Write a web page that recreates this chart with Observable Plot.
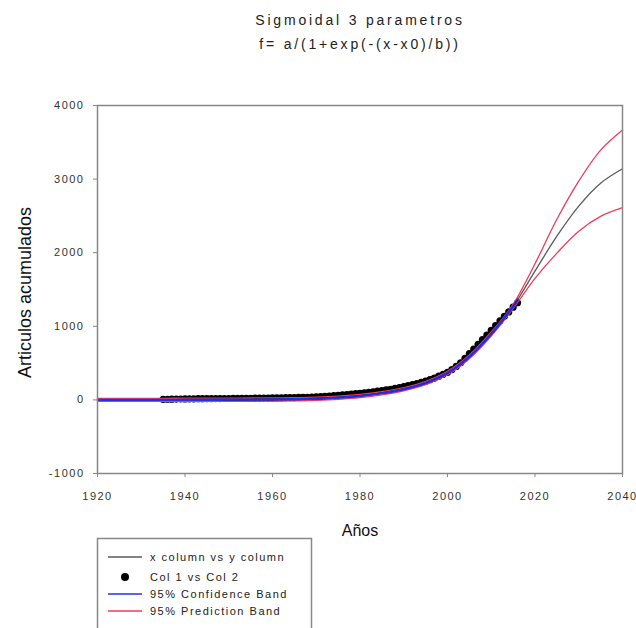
<!DOCTYPE html>
<html><head><meta charset="utf-8">
<script src="https://cdn.jsdelivr.net/npm/d3@7"></script>
<script src="https://cdn.jsdelivr.net/npm/@observablehq/plot@0.6"></script>
<style>
html,body{margin:0;padding:0;background:#fff;}
svg text{letter-spacing:1.5px;}
</style></head><body><div id="chart"></div>
<script>
const titleLines = ["Sigmoidal 3 parametros", "f= a/(1+exp(-(x-x0)/b))"];
const xLabel = "Años";
const yLabel = "Articulos acumulados";
const xTicks = [1920, 1940, 1960, 1980, 2000, 2020, 2040];
const yTicks = [-1000, 0, 1000, 2000, 3000, 4000];

// observed points (Col 1 vs Col 2), one per year 1935..2016
const dataYears = d3.range(1935, 2017);
const dataValues = [
  8, 9, 10, 11, 12, 13, 14, 15, 16, 16,
  17, 17, 18, 18, 19, 19, 20, 20, 21, 21,
  22, 23, 24, 25, 26, 27, 28, 29, 30, 31,
  32, 33, 34, 36, 38, 40, 44, 48, 53, 58,
  63, 68, 72, 78, 84, 90, 97, 104, 111, 118,
  126, 135, 145, 156, 168, 180, 193, 207, 222, 238,
  255, 275, 297, 322, 348, 375, 412, 455, 505, 565,
  630, 690, 755, 820, 880, 945, 1010, 1075, 1135, 1195,
  1260, 1320
];

// fitted curve (x column vs y column), read every 5 years
const fitYears = [1920,1925,1930,1935,1940,1945,1950,1955,1960,1965,1970,1975,1980,1985,1990,1995,2000,2005,2010,2015,2020,2025,2030,2035,2040];
const fitValues = [0, 0, 0, 0.5, 1, 1.5, 2.5, 4, 6, 10, 17, 30, 52, 90, 145, 230, 365, 585, 895, 1270, 1750, 2224, 2633, 2944, 3140];

// 95% prediction band
const predUpper = [20, 20, 21, 22, 23, 24, 25, 26, 28, 32, 39, 52, 74, 112, 167, 253, 389, 610, 922, 1300, 1850, 2454, 2973, 3394, 3668];
const predLower = [-20, -20, -21, -21, -21, -21, -20, -18, -16, -12, -5, 8, 30, 68, 123, 207, 341, 560, 868, 1240, 1650, 1994, 2293, 2494, 2612];

// 95% confidence band (drawn over the observed range)
const confYears = [1920,1925,1930,1935,1940,1945,1950,1955,1960,1965,1970,1975,1980,1985,1990,1995,2000,2005,2010,2015,2016];
const confUpper = [6, 6, 6, 7, 7, 8, 9, 10, 12, 16, 23, 36, 58, 96, 152, 238, 374, 595, 907, 1285, 1372];
const confLower = [-6, -6, -6, -6, -6, -5, -4, -2, 0, 4, 11, 24, 46, 84, 138, 222, 356, 575, 883, 1255, 1340];

const legendLabels = ["x column vs y column", "Col 1 vs Col 2", "95% Confidence Band", "95% Prediction Band"];

const colFit = "#5a5a5a", colConf = "#2030ee", colPred = "#ef3a5c";

const pts = dataYears.map((x, i) => ({x, y: dataValues[i]}));
const toRows = (xs, ys) => xs.map((x, i) => ({x, y: ys[i]}));
const fit = toRows(fitYears, fitValues);
const pU = toRows(fitYears, predUpper), pL = toRows(fitYears, predLower);
const cU = toRows(confYears, confUpper), cL = toRows(confYears, confLower);

const chart = Plot.plot({
  width: 636, height: 628,
  marginLeft: 97, marginRight: 14, marginTop: 105, marginBottom: 155,
  style: {fontFamily: "'Liberation Sans', Arial, sans-serif", fontSize: "11px", background: "#fff", color: "#222", overflow: "visible"},
  x: {domain: [1920, 2040]},
  y: {domain: [-1000, 4000]},
  marks: [
    Plot.line(fit, {x: "x", y: "y", stroke: colFit, strokeWidth: 1.3, curve: "catmull-rom"}),
    Plot.dot(pts, {x: "x", y: "y", r: 3.6, fill: "#000", stroke: "none"}),
    Plot.line(pU, {x: "x", y: "y", stroke: colPred, strokeWidth: 1.3, curve: "catmull-rom"}),
    Plot.line(pL, {x: "x", y: "y", stroke: colPred, strokeWidth: 1.3, curve: "catmull-rom"}),
    Plot.line(cU, {x: "x", y: "y", stroke: colConf, strokeWidth: 1.3, curve: "catmull-rom"}),
    Plot.line(cL, {x: "x", y: "y", stroke: colConf, strokeWidth: 1.3, curve: "catmull-rom"}),
    Plot.frame({stroke: "#888", strokeWidth: 1.5}),
    Plot.axisX({ticks: xTicks, tickFormat: d => String(d), tickSize: 4, tickPadding: 15, label: null, stroke: "#888", fill: "#333"}),
    Plot.axisY({ticks: yTicks, tickFormat: d => String(d), tickSize: 4, tickPadding: 9, label: null, stroke: "#888", fill: "#333"}),
    Plot.text([titleLines[0]], {text: d => d, frameAnchor: "top", textAnchor: "middle", lineAnchor: "middle", dy: -85, fontSize: 14, fill: "#222"}),
    Plot.text([titleLines[1]], {text: d => d, frameAnchor: "top", textAnchor: "middle", lineAnchor: "middle", dy: -61, fontSize: 14, fill: "#222"}),
    Plot.text([yLabel], {text: d => d, frameAnchor: "left", textAnchor: "middle", lineAnchor: "middle", dx: -72, dy: 3, rotate: -90, fontSize: 18, fill: "#111"}),
    Plot.text([xLabel], {text: d => d, frameAnchor: "bottom", textAnchor: "middle", lineAnchor: "middle", dy: 57, fontSize: 16, fill: "#111"})
  ]
});

const svg = d3.select(chart);
svg.selectAll("text").each(function() {
  const t = this.textContent;
  if (t === titleLines[0] || t === titleLines[1]) d3.select(this).style("letter-spacing", "2.8px");
  if (t === xLabel || t === yLabel) d3.select(this).style("letter-spacing", "0px");
});

// legend box
const lg = svg.append("g").attr("font-size", 11).attr("fill", "#222").attr("text-anchor", "start");
lg.append("rect").attr("x", 97.5).attr("y", 538.5).attr("width", 214).attr("height", 130)
  .attr("fill", "#fff").attr("stroke", "#888").attr("stroke-width", 1.5);
const rowsY = [557, 577, 594, 611];
const kinds = ["fit", "dot", "conf", "pred"];
kinds.forEach((k, i) => {
  const y = rowsY[i];
  if (k === "dot") {
    lg.append("circle").attr("cx", 125).attr("cy", y).attr("r", 4).attr("fill", "#000");
  } else {
    lg.append("line").attr("x1", 108).attr("x2", 142).attr("y1", y).attr("y2", y)
      .attr("stroke", k === "fit" ? colFit : k === "conf" ? colConf : colPred).attr("stroke-width", 1.3);
  }
  lg.append("text").attr("x", 150).attr("y", y).attr("dy", "0.35em").attr("text-anchor", "start").text(legendLabels[i]);
});

document.getElementById("chart").appendChild(chart);
</script></body></html>
